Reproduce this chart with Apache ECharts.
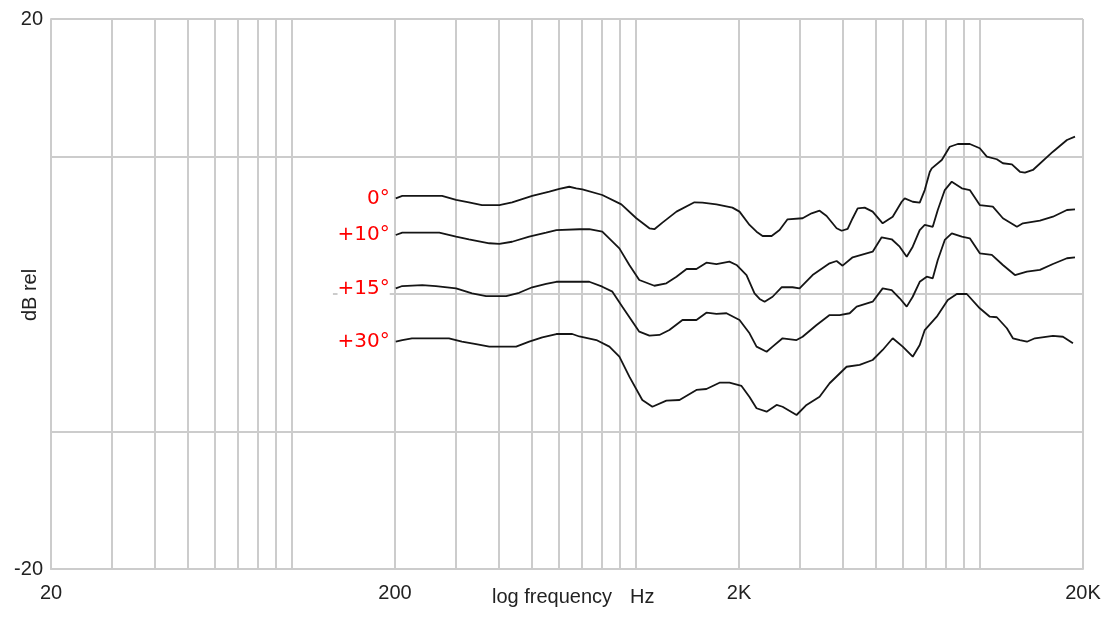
<!DOCTYPE html>
<html>
<head>
<meta charset="utf-8">
<script src="https://cdn.jsdelivr.net/npm/echarts@6/dist/echarts.min.js"></script>
<style>
  html, body { margin: 0; padding: 0; background: #ffffff; }
  #chart { width: 1112px; height: 617px; }
</style>
</head>
<body>
<div id="chart"></div>
<script>
// Off-axis frequency response, [frequency in Hz, level in dB rel]
const angleNames = ['0°', '+10°', '+15°', '+30°'];

const resp0 = [
  [201, 6.96], [210, 7.13], [274, 7.13], [301, 6.84], [328, 6.67], [358, 6.47], [402, 6.47],
  [438, 6.67], [501, 7.13], [562, 7.44], [601, 7.64], [642, 7.80], [673, 7.69], [701, 7.61],
  [801, 7.20], [910, 6.52], [1006, 5.51], [1098, 4.78], [1135, 4.71], [1198, 5.19], [1316, 5.99],
  [1484, 6.67], [1566, 6.64], [1720, 6.52], [1914, 6.28], [2007, 5.99], [2146, 5.02], [2249, 4.53],
  [2342, 4.22], [2488, 4.22], [2624, 4.65], [2768, 5.43], [3061, 5.51], [3251, 5.87], [3430, 6.06],
  [3595, 5.67], [3844, 4.78], [3975, 4.60], [4139, 4.73], [4280, 5.51], [4426, 6.23], [4639, 6.28],
  [4893, 5.99], [5232, 5.14], [5596, 5.62], [5943, 6.71], [6064, 6.96], [6398, 6.71], [6705, 6.64],
  [6934, 7.56], [7170, 8.87], [7267, 9.14], [7771, 9.75], [8199, 10.71], [8651, 10.91], [9375, 10.91],
  [10023, 10.60], [10506, 9.99], [11234, 9.80], [11699, 9.51], [12426, 9.43], [13112, 8.89],
  [13558, 8.82], [14302, 9.02], [16354, 10.35], [17960, 11.20], [18957, 11.44]
];

const resp10 = [
  [201, 4.29], [210, 4.46], [269, 4.46], [301, 4.17], [328, 3.98], [376, 3.69], [402, 3.64],
  [438, 3.80], [491, 4.17], [550, 4.46], [589, 4.65], [687, 4.71], [734, 4.71], [801, 4.53],
  [898, 3.32], [960, 2.11], [1026, 1.02], [1135, 0.60], [1230, 0.78], [1316, 1.26], [1408, 1.82],
  [1504, 1.82], [1608, 2.28], [1720, 2.18], [1876, 2.35], [1967, 2.11], [2103, 1.38], [2219, 0.05],
  [2296, -0.36], [2374, -0.56], [2504, -0.20], [2659, 0.49], [2862, 0.49], [3000, 0.41], [3273, 1.38],
  [3668, 2.23], [3844, 2.40], [4001, 2.06], [4280, 2.67], [4893, 3.08], [5197, 4.12], [5558, 3.98],
  [5863, 3.44], [6146, 2.71], [6398, 3.44], [6705, 4.65], [6934, 5.02], [7316, 4.89], [7566, 6.11],
  [7929, 7.56], [8309, 8.17], [8886, 7.69], [9375, 7.56], [10023, 6.47], [10937, 6.35], [11699, 5.51],
  [12851, 4.89], [13378, 5.14], [14990, 5.33], [16354, 5.62], [17960, 6.11], [18957, 6.16]
];

const resp15 = [
  [201, 0.41], [210, 0.58], [240, 0.65], [263, 0.58], [301, 0.41], [335, 0.05], [368, -0.15],
  [421, -0.15], [459, 0.09], [501, 0.49], [550, 0.73], [589, 0.89], [687, 0.89], [734, 0.89],
  [801, 0.53], [857, 0.17], [916, -0.92], [1026, -2.74], [1098, -3.03], [1174, -2.98], [1255, -2.62],
  [1370, -1.89], [1504, -1.89], [1608, -1.36], [1720, -1.45], [1839, -1.40], [2007, -1.89],
  [2146, -2.86], [2249, -3.83], [2406, -4.20], [2504, -3.83], [2677, -3.22], [2940, -3.35],
  [3061, -3.11], [3362, -2.25], [3668, -1.53], [3922, -1.53], [4195, -1.40], [4396, -0.92],
  [4893, -0.56], [5232, 0.41], [5558, 0.29], [5863, -0.31], [6146, -0.92], [6398, -0.20], [6705, 0.89],
  [7027, 1.26], [7316, 1.14], [7566, 2.47], [7929, 3.93], [8309, 4.41], [8886, 4.17], [9375, 4.05],
  [10023, 2.96], [10864, 2.84], [11699, 2.11], [12679, 1.38], [13741, 1.62], [14990, 1.75],
  [16354, 2.18], [17960, 2.60], [18957, 2.67]
];

const resp30 = [
  [201, -3.47], [210, -3.35], [224, -3.22], [287, -3.22], [313, -3.47], [344, -3.64], [376, -3.83],
  [450, -3.83], [491, -3.47], [536, -3.15], [589, -2.91], [655, -2.91], [687, -3.09], [770, -3.35],
  [840, -3.83], [898, -4.56], [960, -6.01], [1047, -7.71], [1120, -8.20], [1230, -7.76], [1343, -7.71],
  [1504, -6.98], [1608, -6.91], [1755, -6.45], [1876, -6.45], [2034, -6.69], [2146, -7.49],
  [2249, -8.31], [2406, -8.56], [2572, -8.07], [2677, -8.20], [2940, -8.80], [3143, -8.07],
  [3430, -7.47], [3668, -6.49], [4110, -5.29], [4485, -5.16], [4893, -4.80], [5232, -4.07],
  [5596, -3.22], [5983, -3.83], [6398, -4.56], [6705, -3.71], [6934, -2.62], [7515, -1.65],
  [8090, -0.44], [8593, 0.00], [9189, 0.00], [10023, -1.04], [10720, -1.65], [11234, -1.69],
  [12016, -2.49], [12510, -3.22], [13112, -3.35], [13741, -3.47], [14497, -3.22], [16354, -3.05],
  [17487, -3.11], [18700, -3.59]
];

// Vertical grid at every 1-2-...-9 step of each decade
const freqGrid = [20, 30, 40, 50, 60, 70, 80, 90, 100,
  200, 300, 400, 500, 600, 700, 800, 900, 1000,
  2000, 3000, 4000, 5000, 6000, 7000, 8000, 9000, 10000, 20000];
const freqTickValues = [20, 200, 2000, 20000];
const freqTickLabels = ['20', '200', '2K', '20K'];
// Full-width horizontal grid levels; the 0 dB reference starts further right
const levelGrid = [-10, 10, 20];
const levelLabelValues = [-20, 20];
const zeroRefStartHz = 132;

const allResponses = [resp0, resp10, resp15, resp30];

const gridColor = '#cccccc';
const textFont = 'Liberation Sans';

const series = allResponses.map((data, i) => ({
  name: angleNames[i],
  type: 'line',
  data: data,
  showSymbol: false,
  smooth: false,
  silent: true,
  z: 3,
  lineStyle: { color: '#151515', width: 1.8 },
  markPoint: {
    symbol: 'circle',
    symbolSize: 0,
    silent: true,
    data: [{
      coord: data[0],
      label: {
        show: true,
        position: 'left',
        distance: 6,
        formatter: angleNames[i],
        color: '#ff0000',
        fontFamily: 'DejaVu Sans',
        fontSize: 20,
        backgroundColor: '#ffffff'
      }
    }]
  }
}));

// Horizontal grid lines and the 0 dB reference
series[0].markLine = {
  silent: true,
  symbol: 'none',
  z: 1,
  label: { show: false },
  lineStyle: { color: gridColor, width: 2, type: 'solid' },
  data: levelGrid.map(v => ({ yAxis: v }))
    .concat([[{ coord: [zeroRefStartHz, 0] }, { coord: [20000, 0] }]])
};

const chart = echarts.init(document.getElementById('chart'), null, { renderer: 'canvas' });
chart.setOption({
  animation: false,
  backgroundColor: '#ffffff',
  grid: { left: 51, right: 29, top: 19, bottom: 48, containLabel: false, outerBoundsMode: 'none' },
  xAxis: {
    type: 'log',
    logBase: 10,
    min: 20,
    max: 20000,
    axisLine: { show: true, onZero: false, lineStyle: { color: gridColor, width: 2 } },
    axisTick: { show: false, customValues: freqGrid },
    splitLine: { show: true, lineStyle: { color: gridColor, width: 2 } },
    axisLabel: {
      customValues: freqTickValues,
      formatter: v => freqTickLabels[freqTickValues.indexOf(Math.round(v))] || '',
      margin: 14,
      color: '#222222',
      fontFamily: textFont,
      fontSize: 20
    }
  },
  yAxis: {
    type: 'value',
    min: -20,
    max: 20,
    interval: 10,
    axisLine: { show: true, onZero: false, lineStyle: { color: gridColor, width: 2 } },
    axisTick: { show: false },
    splitLine: { show: false },
    axisLabel: {
      customValues: levelLabelValues,
      formatter: v => String(v),
      margin: 8,
      color: '#222222',
      fontFamily: textFont,
      fontSize: 20
    }
  },
  graphic: [
    {
      type: 'text', x: 30, y: 295, rotation: Math.PI / 2,
      style: {
        text: 'dB rel', fill: '#222222', font: '20px "Liberation Sans"',
        align: 'center', verticalAlign: 'middle'
      }
    },
    {
      type: 'text', left: 492, top: 587,
      style: { text: 'log frequency', fill: '#222222', font: '20px "Liberation Sans"' }
    },
    {
      type: 'text', left: 630, top: 587,
      style: { text: 'Hz', fill: '#222222', font: '20px "Liberation Sans"' }
    }
  ],
  series: series
});
</script>
</body>
</html>
